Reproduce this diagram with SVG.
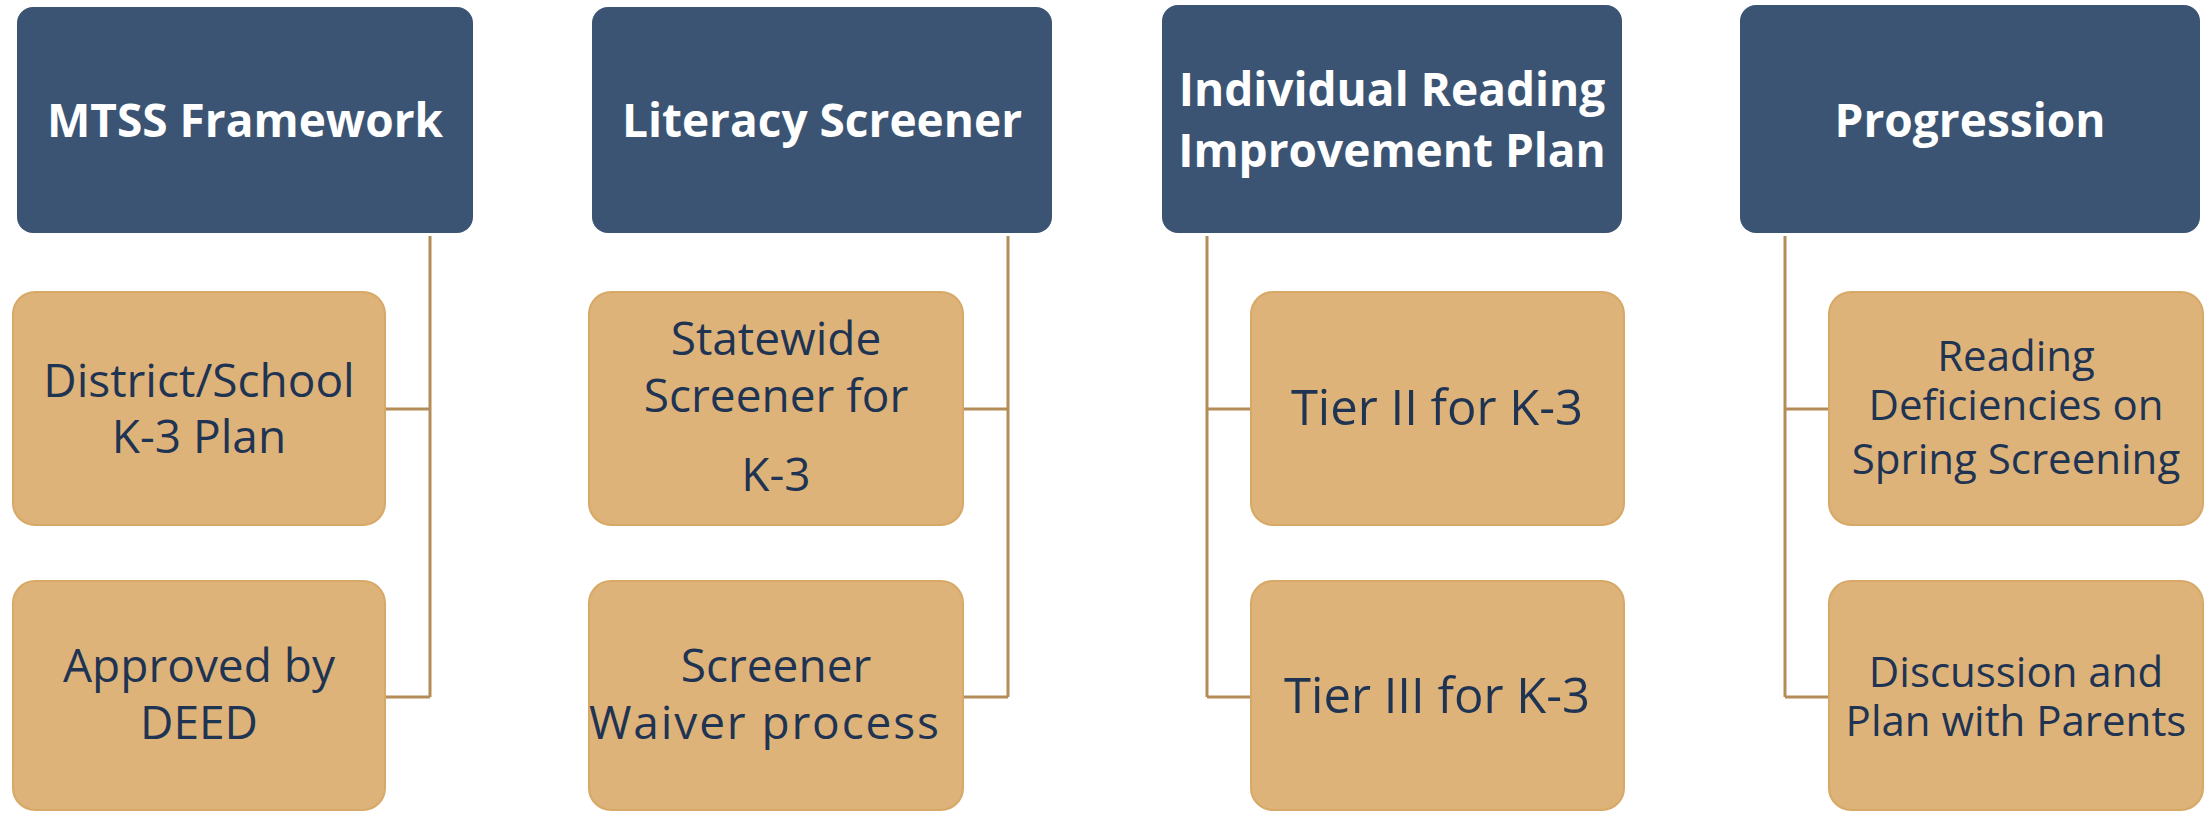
<svg xmlns="http://www.w3.org/2000/svg" width="2208" height="813" viewBox="0 0 2208 813">
<style>
.hdr{fill:#3c5473;}
.child{fill:#deb379;stroke:#d7a866;stroke-width:2;}
.ht{font-family:"Open Sans","Liberation Sans",sans-serif;font-weight:bold;font-size:46px;fill:#ffffff;text-anchor:middle;}
.ct{font-family:"Open Sans","Liberation Sans",sans-serif;font-size:46px;fill:#1f3453;text-anchor:middle;}
.cs{font-size:42px;}
.cl{font-size:49px;}
.conn{fill:none;stroke:#b48c57;stroke-width:3;}
</style>
<rect width="2208" height="813" fill="#ffffff"/>
<g id="connectors">
<path class="conn" d="M430 236V697M385 409H430M385 697H430"/>
<path class="conn" d="M1008 236V697M963 409H1008M963 697H1008"/>
<path class="conn" d="M1207 236V697M1207 409H1251M1207 697H1251"/>
<path class="conn" d="M1785 236V697M1785 409H1829M1785 697H1829"/>
</g>
<g id="h1"><rect class="hdr" x="17" y="7" width="456" height="226" rx="16"/><text class="ht" x="245" y="137">MTSS Framework</text></g>
<g id="c1a"><rect class="child" x="13" y="292" width="372" height="233" rx="22"/><text class="ct" x="199" y="397">District/School</text><text class="ct" x="199" y="453">K-3 Plan</text></g>
<g id="c1b"><rect class="child" x="13" y="581" width="372" height="229" rx="22"/><text class="ct" x="199" y="682">Approved by</text><text class="ct" x="199" y="739">DEED</text></g>
<g id="h2"><rect class="hdr" x="592" y="7" width="460" height="226" rx="16"/><text class="ht" x="822" y="137">Literacy Screener</text></g>
<g id="c2a"><rect class="child" x="589" y="292" width="374" height="233" rx="22"/><text class="ct" x="776" y="355">Statewide</text><text class="ct" x="776" y="412">Screener for</text><text class="ct" x="776" y="491">K-3</text></g>
<g id="c2b"><rect class="child" x="589" y="581" width="374" height="229" rx="22"/><text class="ct" x="776" y="682">Screener</text><text class="ct" x="764" y="739" textLength="350">Waiver process</text></g>
<g id="h3"><rect class="hdr" x="1162" y="5" width="460" height="228" rx="16"/><text class="ht" x="1392" y="106">Individual Reading</text><text class="ht" x="1392" y="167">Improvement Plan</text></g>
<g id="c3a"><rect class="child" x="1251" y="292" width="373" height="233" rx="22"/><text class="ct cl" x="1437" y="425">Tier II for K-3</text></g>
<g id="c3b"><rect class="child" x="1251" y="581" width="373" height="229" rx="22"/><text class="ct cl" x="1437" y="713">Tier III for K-3</text></g>
<g id="h4"><rect class="hdr" x="1740" y="5" width="460" height="228" rx="16"/><text class="ht" x="1970" y="137">Progression</text></g>
<g id="c4a"><rect class="child" x="1829" y="292" width="374" height="233" rx="22"/><text class="ct cs" x="2016" y="371">Reading</text><text class="ct cs" x="2016" y="420">Deficiencies on</text><text class="ct cs" x="2016" y="474">Spring Screening</text></g>
<g id="c4b"><rect class="child" x="1829" y="581" width="374" height="229" rx="22"/><text class="ct cs" x="2016" y="687">Discussion and</text><text class="ct cs" x="2016" y="736">Plan with Parents</text></g>
</svg>
